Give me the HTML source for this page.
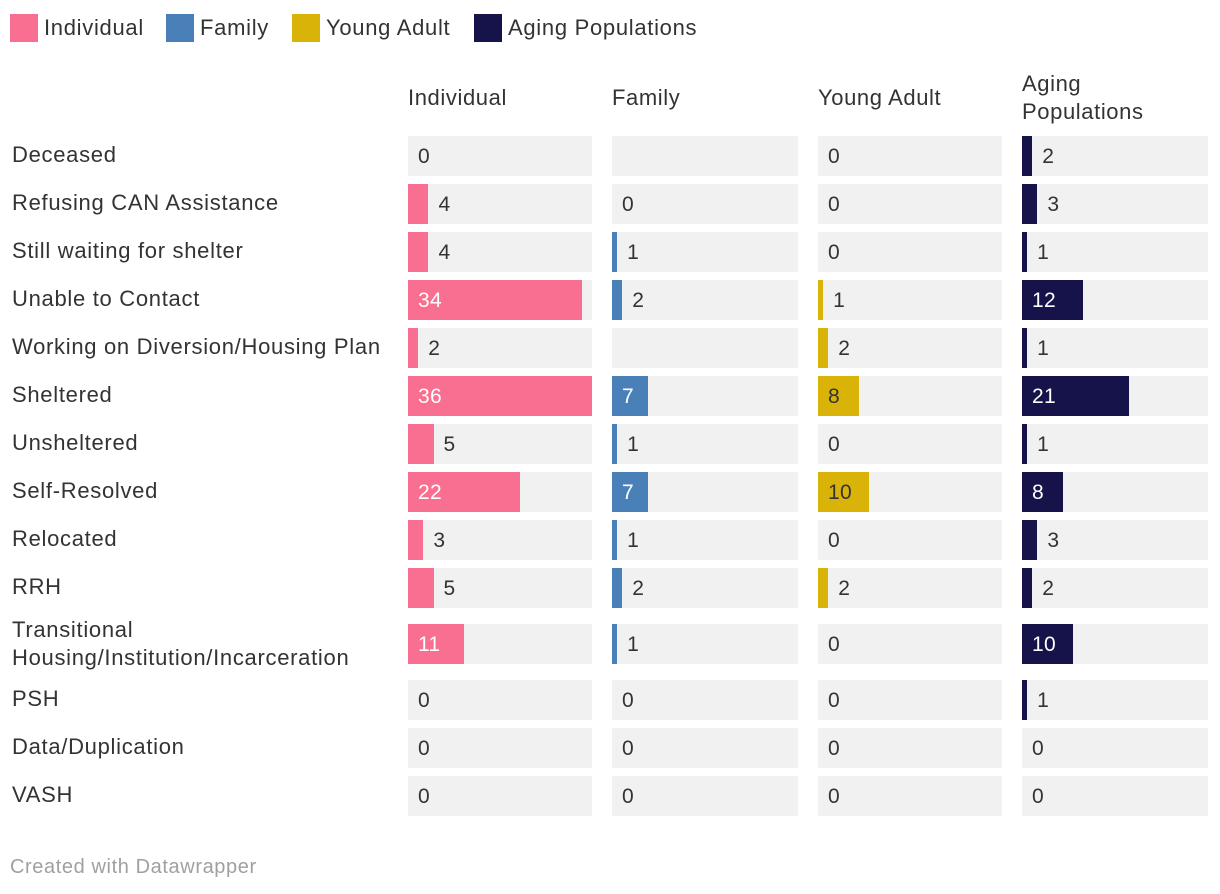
<!DOCTYPE html>
<html><head><meta charset="utf-8">
<style>
body{margin:0;width:1220px;height:894px;background:#fff;font-family:"Liberation Sans",sans-serif;color:#333;position:relative;overflow:hidden}
.abs{position:absolute}
.leg{position:absolute;top:14px;height:28px;display:flex;align-items:center;font-size:22px;letter-spacing:0.7px;color:#333}
.leg i{display:inline-block;width:28px;height:28px;margin-right:6px}
.hdr{position:absolute;font-size:22px;letter-spacing:0.6px;line-height:28px}
.rl{position:absolute;left:12px;font-size:22px;letter-spacing:0.7px;line-height:28px}
.bg{position:absolute;background:#f1f1f1;height:40px}
.bar{position:absolute;height:40px}
.val{position:absolute;font-size:21px;line-height:40px;letter-spacing:0.3px}
</style></head><body>
<div class="leg" style="left:10px"><i style="background:#f86f91"></i>Individual</div>
<div class="leg" style="left:166px"><i style="background:#4a80b8"></i>Family</div>
<div class="leg" style="left:292px"><i style="background:#d9b307"></i>Young Adult</div>
<div class="leg" style="left:474px"><i style="background:#15134a"></i>Aging Populations</div>
<div id="chart"></div>
<div class="abs" style="left:10px;top:856px;font-size:20px;letter-spacing:0.6px;color:#a0a0a0">Created with Datawrapper</div>
<script>
const categories=["Deceased","Refusing CAN Assistance","Still waiting for shelter","Unable to Contact","Working on Diversion/Housing Plan","Sheltered","Unsheltered","Self-Resolved","Relocated","RRH","Transitional Housing/Institution/Incarceration","PSH","Data/Duplication","VASH"];
const seriesNames=["Individual","Family","Young Adult","Aging Populations"];
const individual=[0,4,4,34,2,36,5,22,3,5,11,0,0,0];
const family=[null,0,1,2,null,7,1,7,1,2,1,0,0,0];
const youngAdult=[0,0,0,1,2,8,0,10,0,2,0,0,0,0];
const aging=[2,3,1,12,1,21,1,8,3,2,10,1,0,0];
const maxValue=36;
const series=[individual,family,youngAdult,aging];
const colors=["#f86f91","#4a80b8","#d9b307","#15134a"];
const insideText=["#fff","#fff","#333","#fff"];
const colX=[408,612,818,1022],colW=184,colWs=[184,186,184,186];
const rowTop=[136,184,232,280,328,376,424,472,520,568,624,680,728,776];
const xs=v=>v/maxValue*colW;
const c=document.getElementById('chart');
function mk(cls,css,txt){const d=document.createElement('div');d.className=cls;d.style.cssText=css;if(txt!==undefined)d.textContent=txt;c.appendChild(d);return d;}
seriesNames.forEach((n,j)=>{
  const h=mk('hdr','left:'+colX[j]+'px;'+(j===3?'top:70px;width:160px':'top:84px'),n);
  
  
});
categories.forEach((cat,i)=>{
  const y=rowTop[i];
  const two=i===10;
  const l=mk('rl','top:'+(two?y-8:y+5)+'px;width:390px',cat);
  
  
  series.forEach((s,j)=>{
    const bg=mk('bg','left:'+colX[j]+'px;top:'+y+'px;width:'+colWs[j]+'px');
    
    
    const v=s[i];
    if(v===null)return;
    const w=xs(v);
    if(v>0){
      const b=mk('bar','left:'+colX[j]+'px;top:'+y+'px;width:'+w+'px;background:'+colors[j]);
      
      
    }
    const inside=w>=30;
    const t=mk('val','top:'+(y+1)+'px;left:'+(inside?colX[j]+10:colX[j]+w+10)+'px;color:'+(inside?insideText[j]:'#333'),String(v));
    
    
  });
});
</script>
</body></html>
